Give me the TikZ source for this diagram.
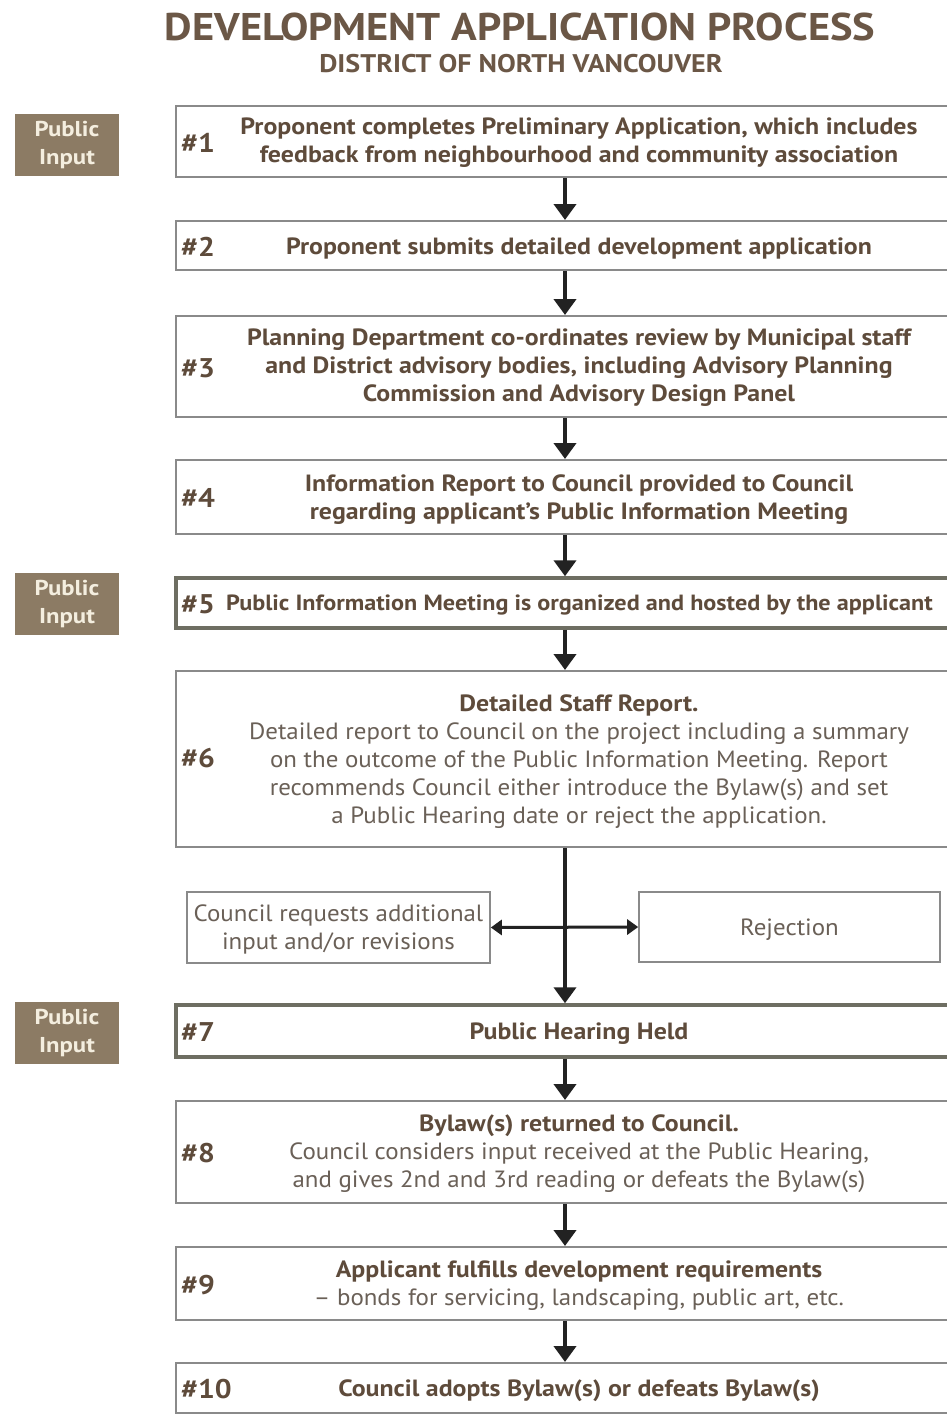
\documentclass[tikz,border=0pt]{standalone}
\usepackage{fontspec}
\setmainfont{PT Sans}
\newfontfamily\semifont[FakeStretch=1.1,Ligatures=TeX]{PT Sans}
\newfontfamily\regfont[FakeStretch=1.06,Ligatures=TeX]{PT Sans}
\newfontfamily\pubfont[FakeStretch=1.15]{PT Sans}
\usetikzlibrary{arrows.meta}
\definecolor{titlebrown}{HTML}{6B5746}
\definecolor{txtbrown}{HTML}{5E4B3B}
\definecolor{txtgray}{HTML}{6A6057}
\definecolor{boxgray}{HTML}{8A8A8A}
\definecolor{thickgray}{HTML}{6E6E62}
\definecolor{pubfill}{HTML}{8C7B64}
\definecolor{pubtext}{HTML}{F4EEDF}
\definecolor{arrowdark}{HTML}{222222}
\begin{document}
\begin{tikzpicture}[x=1pt,y=-1pt,
  mainbox/.style={draw=boxgray, line width=2pt, minimum width=784pt, inner sep=0pt},
  thickbox/.style={mainbox, draw=thickgray, line width=3.5pt},
  sidebox/.style={draw=boxgray, line width=1.6pt, inner sep=0pt},
  pubbox/.style={fill=pubfill, minimum width=104pt, minimum height=62pt, inner sep=0pt,
    text=pubtext, font=\pubfont\fontsize{21.5}{28}\selectfont\bfseries, align=center},
  semitxt/.style={text=txtbrown, font=\semifont\fontsize{23.5}{28}\selectfont\bfseries, align=center, inner sep=0pt},
  regtxt/.style={text=txtgray, font=\regfont\fontsize{23.5}{28}\selectfont, align=center, inner sep=0pt},
  numtxt/.style={text=txtbrown, font=\semifont\fontsize{27}{28}\selectfont\bfseries, anchor=west, inner sep=0pt},
  flow/.style={draw=arrowdark, line width=4pt, -{Triangle[length=16pt,width=22pt]}},
  sideflow/.style={draw=arrowdark, line width=3pt, {Triangle[length=11pt,width=15pt]}-{Triangle[length=11pt,width=15pt]}}
]
\useasboundingbox (0,0) rectangle (947,1416);
\fill[white] (0,0) rectangle (947,1416);

% title
\node[text=titlebrown, font=\semifont\fontsize{38.6}{42}\selectfont\bfseries, inner sep=0pt] (title) at (520,27) {DEVELOPMENT APPLICATION PROCESS};
\node[text=titlebrown, font=\semifont\fontsize{25.5}{28}\selectfont\bfseries, inner sep=0pt] (subtitle) at (521,64) {DISTRICT OF NORTH VANCOUVER};

\coordinate (ax) at (565,0);

% public input tags
\node[pubbox] (p1) at (67,145) {Public\\Input};
\node[pubbox] (p2) at (67,604) {Public\\Input};
\node[pubbox] (p3) at (67,1033) {Public\\Input};

% box 1
\node[mainbox, minimum height=71pt] (b1) at (568,141.5) {};
\node[numtxt] (n1) at (181,143) {\#1};
\node[semitxt] (t1) at (579,143) {Proponent completes Preliminary Application, which includes\\feedback from neighbourhood and community association};

% box 2
\node[mainbox, minimum height=49pt] (b2) at (568,245.5) {};
\node[numtxt] (n2) at (181,247) {\#2};
\node[semitxt] (t2) at (579,248) {Proponent submits detailed development application};

% box 3
\node[mainbox, minimum height=101pt] (b3) at (568,366.5) {};
\node[numtxt] (n3) at (181,368) {\#3};
\node[semitxt] (t3) at (579,368) {Planning Department co-ordinates review by Municipal staff\\and District advisory bodies, including Advisory Planning\\Commission and Advisory Design Panel};

% box 4
\node[mainbox, minimum height=74pt] (b4) at (568,497) {};
\node[numtxt] (n4) at (181,498) {\#4};
\node[semitxt] (t4) at (579,500) {Information Report to Council provided to Council\\regarding applicant’s Public Information Meeting};

% box 5
\node[thickbox, minimum height=50pt] (b5) at (568,603) {};
\node[numtxt] (n5) at (181,604) {\#5};
\node[semitxt, anchor=west, font=\semifont\fontsize{22}{28}\selectfont\bfseries] (t5) at (226,605) {Public Information Meeting is organized and hosted by the applicant};

% box 6
\node[mainbox, minimum height=176pt] (b6) at (568,759) {};
\node[numtxt] (n6) at (181,758) {\#6};
\node[regtxt] (t6) at (579,762) {\textcolor{txtbrown}{\semifont\bfseries Detailed Staff Report.}\\Detailed report to Council on the project including a summary\\on the outcome of the Public Information Meeting. Report\\recommends Council either introduce the Bylaw(s) and set\\a Public Hearing date or reject the application.};

% side boxes
\node[sidebox, minimum width=303pt, minimum height=71pt] (req) at (338.5,927.5) {};
\node[regtxt] (treq) at (338.5,929) {Council requests additional\\input and/or revisions};
\node[sidebox, minimum width=301pt, minimum height=70pt] (rej) at (789.5,927) {};
\node[regtxt] (trej) at (789.5,930) {Rejection};

% box 7
\node[thickbox, minimum height=52pt] (b7) at (568,1031) {};
\node[numtxt] (n7) at (181,1032) {\#7};
\node[semitxt] (t7) at (579,1034) {Public Hearing Held};

% box 8
\node[mainbox, minimum height=102pt] (b8) at (568,1152) {};
\node[numtxt] (n8) at (181,1153) {\#8};
\node[regtxt] (t8) at (579,1154) {\textcolor{txtbrown}{\semifont\bfseries Bylaw(s) returned to Council.}\\Council considers input received at the Public Hearing,\\and gives 2nd and 3rd reading or defeats the Bylaw(s)};

% box 9
\node[mainbox, minimum height=73pt] (b9) at (568,1283.5) {};
\node[numtxt] (n9) at (181,1285) {\#9};
\node[regtxt] (t9) at (579,1286) {\textcolor{txtbrown}{\semifont\bfseries Applicant fulfills development requirements}\\– bonds for servicing, landscaping, public art, etc.};

% box 10
\node[mainbox, minimum height=50pt] (b10) at (568,1388) {};
\node[numtxt] (n10) at (181,1389) {\#10};
\node[semitxt] (t10) at (579,1391) {Council adopts Bylaw(s) or defeats Bylaw(s)};

% connectors
\draw[flow] (b1.south -| ax) -- (b2.north -| ax);
\draw[flow] (b2.south -| ax) -- (b3.north -| ax);
\draw[flow] (b3.south -| ax) -- (b4.north -| ax);
\draw[flow] (b4.south -| ax) -- (b5.north -| ax);
\draw[flow] (b5.south -| ax) -- (b6.north -| ax);
\draw[flow] (b6.south -| ax) -- (b7.north -| ax);
\draw[flow] (b7.south -| ax) -- (b8.north -| ax);
\draw[flow] (b8.south -| ax) -- (b9.north -| ax);
\draw[flow] (b9.south -| ax) -- (b10.north -| ax);
\draw[sideflow] (req.east) -- (rej.west);
\end{tikzpicture}
\end{document}
